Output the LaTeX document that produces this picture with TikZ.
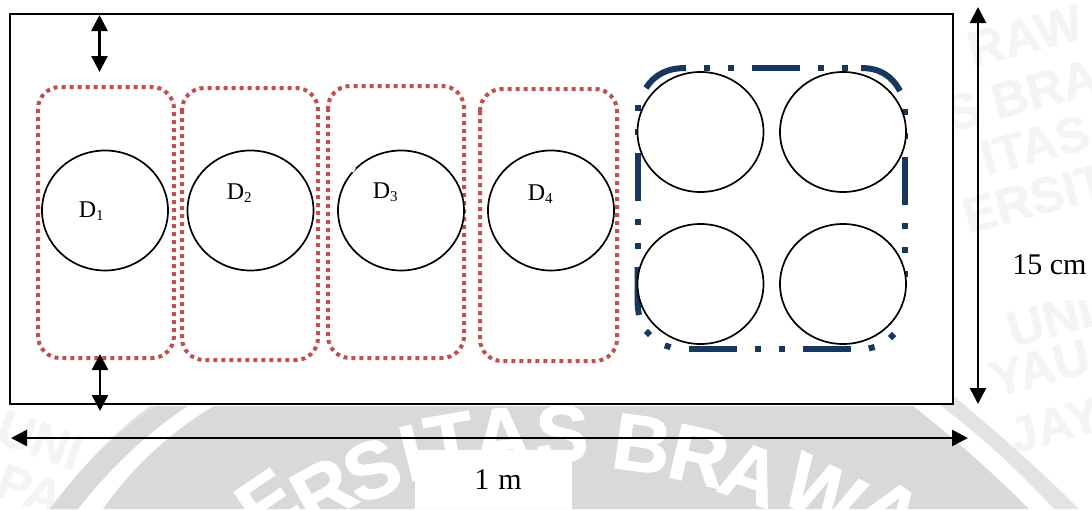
\documentclass[tikz,border=0pt]{standalone}
\usepackage{fontspec}
\setmainfont{Liberation Serif}
\newfontfamily\wmfont[FakeBold=1.2]{Liberation Sans}
\usetikzlibrary{arrows.meta,shapes.geometric}
\definecolor{redline}{HTML}{C0504D}
\definecolor{blueline}{HTML}{17375E}
\definecolor{sealgray}{HTML}{D9D9D9}
\definecolor{sealedge}{HTML}{E3E3E3}
\definecolor{faint}{HTML}{F4F4F4}
\tikzset{
 frameline/.style={draw=black,line width=.85pt,fill=white},
 redbox/.style={draw=redline,line width=2pt,dash pattern=on 2pt off 2pt,rounded corners=11pt},
 bluedash/.style={draw=blueline,line width=3pt},
 disc/.style={ellipse,draw=black,fill=white,line width=.85pt,minimum width=63pt,minimum height=60pt,inner sep=0pt},
 dim/.style={draw=black,line width=1.25pt,{Triangle[length=8pt,width=8pt]}-{Triangle[length=8pt,width=8pt]}},
 dlabel/.style={inner sep=0pt,anchor=base west,font=\fontsize{12}{14}\selectfont},
 wm/.style={inner sep=0pt,text=white,font=\wmfont\bfseries\fontsize{40}{42}\selectfont},
 fw/.style={inner sep=0pt,text=faint,font=\wmfont\bfseries\fontsize{25}{27}\selectfont},
 valuebox/.style={fill=white,draw=none,inner sep=0pt},
 dimtext/.style={inner sep=0pt,anchor=base west,font=\fontsize{15}{18}\selectfont}
}
\newcommand{\subn}[1]{\raisebox{-1.7pt}{\fontsize{7.5}{9}\selectfont #1}}
\begin{document}
\begin{tikzpicture}[x=0.5pt,y=-0.5pt]
\useasboundingbox (0,0) rectangle (1092,509);
% faint lettering
\node[fw,rotate=15] (f1) at (1025,36) {RAW};
\node[fw,rotate=15] (f2) at (1022,95) {S BRA};
\node[fw,rotate=15] (f3) at (1035,145) {ITAS};
\node[fw,rotate=15] (f4) at (1035,198) {ERSIT};
\node[fw,rotate=15] (f5) at (1050,320) {UNI};
\node[fw,rotate=15] (f6) at (1040,368) {YAU};
\node[fw,rotate=15] (f7) at (1055,425) {JAY};
\node[fw,rotate=-20] (f8) at (40,440) {UNI};
\node[fw,rotate=-20] (f9) at (30,490) {PA};
% seal watermark
\fill[sealedge] (150,406) .. controls (110,435) and (75,475) .. (50,509) -- (77,509) .. controls (105,470) and (145,432) .. (188,406) -- cycle;
\fill[white] (188,406) .. controls (148,432) and (110,468) .. (77,509) -- (103,509) .. controls (130,470) and (170,432) .. (214,406) -- cycle;
\fill[sealgray] (188,406) .. controls (148,432) and (110,468) .. (78,509) -- (50,509) .. controls (75,475) and (115,432) .. (157,406) -- cycle;
\fill[sealgray] (214,406) -- (913,406) .. controls (950,435) and (990,470) .. (1029,509) -- (103,509) .. controls (130,470) and (170,432) .. (214,406) -- cycle;
\fill[sealedge] (941,406) -- (955,397) .. controls (1000,435) and (1040,470) .. (1079,509) -- (1054,509) .. controls (1020,472) and (980,435) .. (941,406) -- cycle;
\foreach \t/\px/\py/\r in {E/267/503/34,R/323/491/29,S/372/470/22,I/412/453/14,T/450/442/10,A/502/436/5,S/562/434/0,B/642/444/-8,R/699/456/-13,A/751/474/-19,W/823/492/-27,A/890/512/-34}{
 \node[wm,rotate=\r] (w\px) at (\px,\py) {\t};
}
% white patches behind the values
\node[valuebox,minimum width=78.5pt,minimum height=29.5pt] (p1) at (493.5,479.5) {};
\node[valuebox,minimum width=52pt,minimum height=32pt] (p2) at (1040,268) {};
% frame
\draw[frameline] (10,14) rectangle (953,404);
% red groups
\draw[redbox] (38,87) rectangle (174,358);
\draw[redbox] (182,88) rectangle (318,360);
\draw[redbox] (328,86) rectangle (464,358);
\draw[redbox] (480,89) rectangle (617,361);
% blue group
\draw[bluedash] (646,88) .. controls (655,74) and (668,68) .. (686,68);
\foreach \a/\b in {704/710,728/734,752/800,818/824,842/848}{\draw[bluedash] (\a,68) -- (\b,68);}
\draw[bluedash] (861,68) .. controls (880,68) and (892,76) .. (900,91);
\foreach \a/\b in {109/115,133/139,157/205,223/229,247/253,271/277}{\draw[bluedash] (905,\a) -- (905,\b);}
\draw[bluedash] (889.9,338.1) -- (894.1,333.9);
\draw[bluedash] (868.8,348.4) -- (874.6,347);
\foreach \a/\b in {803/851,755/761,779/785,689/737}{\draw[bluedash] (\a,349) -- (\b,349);}
\draw[bluedash] (664.9,345.3) -- (670.5,347.3);
\draw[bluedash] (645.9,330.9) -- (650.1,335.1);
\draw[bluedash] (637.5,267) -- (637.5,298) .. controls (637.5,305) and (638,310) .. (639,315);
\foreach \a/\b in {243/249,219/225,153/201,129/135,105/111}{\draw[bluedash] (637.5,\a) -- (637.5,\b);}
% circles
\node[disc] (c1) at (105,210.5) {};
\node[disc] (c2) at (250.5,210.5) {};
\node[disc] (c3) at (401,210.5) {};
\node[disc] (c4) at (551,210.5) {};
\node[disc] (c5) at (700.5,132) {};
\node[disc] (c6) at (843,132) {};
\node[disc] (c7) at (700.5,284) {};
\node[disc] (c8) at (843,284) {};
\draw[white,line width=1pt] (352.3,172) -- (355,168);
% labels
\node[dlabel] (d1) at (78.5,217) {D\subn{1}};
\node[dlabel] (d2) at (226.5,199) {D\subn{2}};
\node[dlabel] (d3) at (372.5,198.5) {D\subn{3}};
\node[dlabel] (d4) at (527.5,200.5) {D\subn{4}};
\node[dimtext] (t1) at (474,489) {1\hspace{.7pt} m};
\node[dimtext] (t2) at (1012,274) {15 cm};
% dimension arrows
\coordinate (a1) at (99.5,15);
\coordinate (a2) at (99.5,72);
\coordinate (b1) at (100,354);
\coordinate (b2) at (100,411);
\coordinate (h1) at (11,438);
\coordinate (h2) at (968,438);
\coordinate (v1) at (978,7);
\coordinate (v2) at (978,404);
\draw[dim] (a1) -- (a2);
\draw[dim] (b1) -- (b2);
\draw[dim] (h1) -- (h2);
\draw[dim] (v1) -- (v2);
\end{tikzpicture}
\end{document}
